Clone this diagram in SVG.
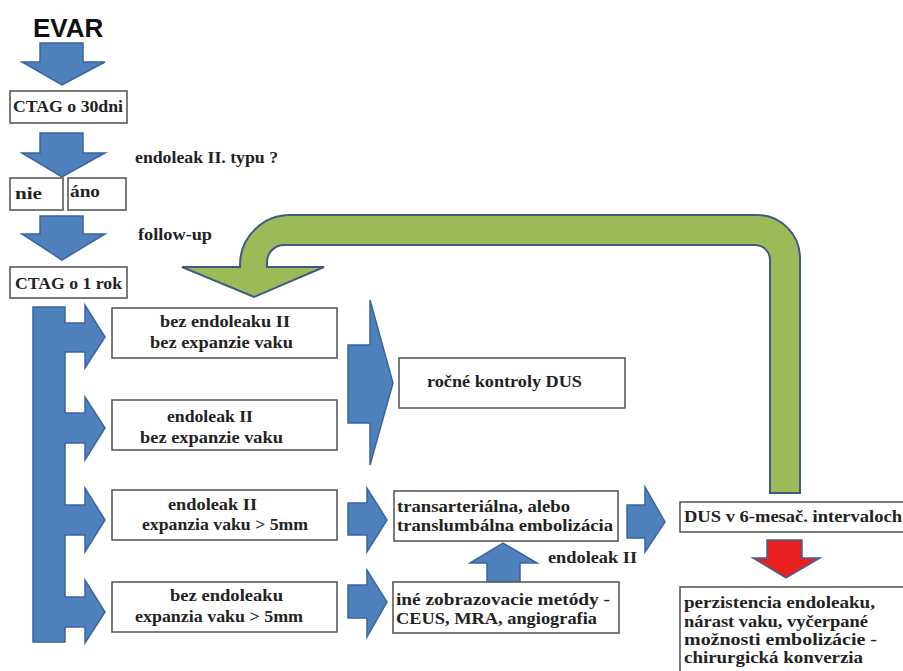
<svg xmlns="http://www.w3.org/2000/svg" width="903" height="671" viewBox="0 0 903 671">
<style>
.bg{fill:#ffffff}
.blue{fill:#4f81bd;stroke:#3a64a0;stroke-width:1.5;stroke-linejoin:miter}
.green{fill:#9bbb59;stroke:#3f5a80;stroke-width:2}
.red{fill:#e8211f;stroke:#3a64a0;stroke-width:1.5}
.box{fill:#ffffff;stroke:#5a5a5a;stroke-width:1.6}
.t{font-family:'Liberation Serif','DejaVu Serif',serif;font-weight:700;font-size:16px;fill:#222222}
.title{font-family:'Liberation Sans',Arial,sans-serif;font-weight:bold;font-size:26px;fill:#111111}
</style>
<rect class="bg" x="0" y="0" width="903" height="671"/>

<g id="connectors">
  <polygon class="blue" points="40,43 83,43 83,62 105,62 62,85 22,62 40,62"/>
  <polygon class="blue" points="40,133 83,133 83,153 105,153 62,177 22,153 40,153"/>
  <polygon class="blue" points="40,216 83,216 83,234 105,234 62,260 22,234 40,234"/>
  <polygon class="blue" points="33,307 65,307 65,323 85,323 85,305 105,337 85,368 85,352 65,352 65,413 85,413 85,397 105,428 85,460 85,443 65,443 65,505 85,505 85,488 105,520 85,552 85,535 65,535 65,597 85,597 85,580 105,612 85,643 85,627 65,627 65,642 33,642"/>
  <polygon class="blue" points="348,345 370,345 370,300 393,383 370,465 370,423 348,423"/>
  <polygon class="blue" points="348,503 367,503 367,488 387,520 367,552 367,535 348,535"/>
  <polygon class="blue" points="348,585 367,585 367,570 387,602 367,637 367,618 348,618"/>
  <polygon class="blue" points="487,582 487,563 470,563 503,543 537,563 520,563 520,582"/>
  <polygon class="blue" points="627,505 645,505 645,487 665,522 645,552 645,538 627,538"/>
  <path class="green" d="M800,493 L800,258 A43,43 0 0 0 757,215 L290,215 A50,50 0 0 0 240,265 L240,267 L182,267 L254,297 L324,267 L267,267 L267,262 A17,17 0 0 1 284,245 L755,245 A15,15 0 0 1 770,260 L770,493 Z"/>
  <polygon class="red" points="767,540 802,540 802,558 820,558 786,578 753,558 767,558"/>
</g>

<g id="evar"><text class="title" x="33" y="37">EVAR</text></g>

<g id="ctag30">
  <rect class="box" x="10" y="91" width="117" height="32"/>
  <text class="t" x="13" y="112" textLength="110" lengthAdjust="spacingAndGlyphs">CTAG o 30dni</text>
</g>

<g id="question"><text class="t" x="135" y="163" textLength="143" lengthAdjust="spacingAndGlyphs">endoleak II. typu ?</text></g>

<g id="nie">
  <rect class="box" x="10" y="178" width="53" height="32"/>
  <text class="t" x="15" y="199" textLength="27" lengthAdjust="spacingAndGlyphs">nie</text>
</g>
<g id="ano">
  <rect class="box" x="68" y="178" width="58" height="32"/>
  <text class="t" x="70" y="197" textLength="30" lengthAdjust="spacingAndGlyphs">áno</text>
</g>

<g id="followup"><text class="t" x="138" y="240" textLength="74" lengthAdjust="spacingAndGlyphs">follow-up</text></g>

<g id="ctag1">
  <rect class="box" x="10" y="267" width="117" height="31"/>
  <text class="t" x="15" y="289" textLength="107" lengthAdjust="spacingAndGlyphs">CTAG o 1 rok</text>
</g>

<g id="box1">
  <rect class="box" x="112" y="308" width="225" height="50"/>
  <text class="t" x="160" y="327" textLength="130" lengthAdjust="spacingAndGlyphs">bez endoleaku II</text>
  <text class="t" x="150" y="348" textLength="143" lengthAdjust="spacingAndGlyphs">bez expanzie vaku</text>
</g>
<g id="box2">
  <rect class="box" x="112" y="400" width="225" height="50"/>
  <text class="t" x="167" y="422" textLength="86" lengthAdjust="spacingAndGlyphs">endoleak II</text>
  <text class="t" x="140" y="443" textLength="143" lengthAdjust="spacingAndGlyphs">bez expanzie vaku</text>
</g>
<g id="box3">
  <rect class="box" x="112" y="490" width="225" height="50"/>
  <text class="t" x="168" y="510" textLength="89" lengthAdjust="spacingAndGlyphs">endoleak II</text>
  <text class="t" x="142" y="530" textLength="166" lengthAdjust="spacingAndGlyphs">expanzia vaku &gt; 5mm</text>
</g>
<g id="box4">
  <rect class="box" x="112" y="582" width="225" height="50"/>
  <text class="t" x="170" y="601" textLength="113" lengthAdjust="spacingAndGlyphs">bez endoleaku</text>
  <text class="t" x="135" y="622" textLength="168" lengthAdjust="spacingAndGlyphs">expanzia vaku &gt; 5mm</text>
</g>

<g id="rocne">
  <rect class="box" x="399" y="358" width="226" height="50"/>
  <text class="t" x="427" y="387" textLength="155" lengthAdjust="spacingAndGlyphs">ročné kontroly DUS</text>
</g>

<g id="embolizacia">
  <rect class="box" x="394" y="491" width="224" height="50"/>
  <text class="t" x="397" y="512" textLength="173" lengthAdjust="spacingAndGlyphs">transarteriálna, alebo</text>
  <text class="t" x="397" y="531" textLength="216" lengthAdjust="spacingAndGlyphs">translumbálna embolizácia</text>
</g>

<g id="endoleak-label"><text class="t" x="548" y="563" textLength="89" lengthAdjust="spacingAndGlyphs">endoleak II</text></g>

<g id="ine">
  <rect class="box" x="393" y="582" width="226" height="51"/>
  <text class="t" x="396" y="605" textLength="214" lengthAdjust="spacingAndGlyphs">iné zobrazovacie metódy -</text>
  <text class="t" x="396" y="624" textLength="201" lengthAdjust="spacingAndGlyphs">CEUS, MRA, angiografia</text>
</g>

<g id="dus6">
  <rect class="box" x="680" y="502" width="240" height="30"/>
  <text class="t" x="684" y="522" textLength="218" lengthAdjust="spacingAndGlyphs">DUS v 6-mesač. intervaloch</text>
</g>

<g id="konverzia">
  <rect class="box" x="680" y="587" width="240" height="100"/>
  <text class="t" x="684" y="608" textLength="191" lengthAdjust="spacingAndGlyphs">perzistencia endoleaku,</text>
  <text class="t" x="684" y="627" textLength="184" lengthAdjust="spacingAndGlyphs">nárast vaku, vyčerpané</text>
  <text class="t" x="684" y="645" textLength="193" lengthAdjust="spacingAndGlyphs">možnosti embolizácie  -</text>
  <text class="t" x="684" y="663" textLength="179" lengthAdjust="spacingAndGlyphs">chirurgická konverzia</text>
</g>
</svg>
